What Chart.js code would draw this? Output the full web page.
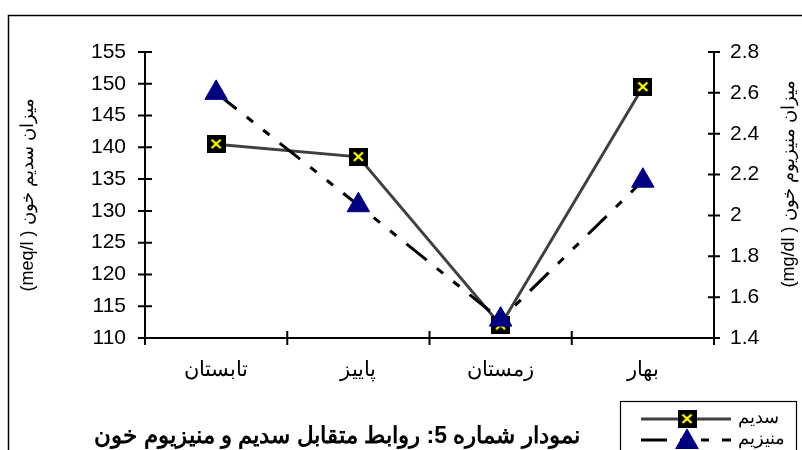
<!DOCTYPE html>
<html>
<head>
<meta charset="utf-8">
<script src="https://cdn.jsdelivr.net/npm/chart.js@4.4.1/dist/chart.umd.min.js"></script>
<style>
  html,body{margin:0;padding:0;background:#fff;}
  #wrap{width:802px;height:450px;position:relative;}
</style>
</head>
<body>
<div id="wrap"><canvas id="c" width="802" height="450"></canvas></div>
<script>
const seasons=['تابستان','پاییز','زمستان','بهار'];
const sodium=[140.5, 138.5, 112, 149.5];
const magnesium=[2.6, 2.05, 1.49, 2.17];
const seriesNames=['سدیم','منیزیم'];
const sodiumTicks=[110,155,5];
const magTicks=[1.4,2.8,0.2];
const leftTitle='(meq/l ) میزان سدیم خون';
const rightTitle='(mg/dl ) میزان منیزیوم خون';
const captionWords=['نمودار','شماره',':5','روابط','متقابل','سدیم','و','منیزیوم','خون'];

const FONT='"Liberation Sans", Arial, sans-serif';

// black square with yellow cross
const sq=document.createElement('canvas');
sq.width=19; sq.height=18;
(function(){
  const g=sq.getContext('2d');
  g.fillStyle='#000'; g.fillRect(0,0,19,18);
  g.strokeStyle='#ffff00'; g.lineWidth=2.4;
  g.beginPath(); g.moveTo(5,4.5); g.lineTo(14,13); g.moveTo(14,4.5); g.lineTo(5,13); g.stroke();
})();

const frame={
  id:'frame',
  beforeDraw(chart){
    const ctx=chart.ctx;
    ctx.save();
    ctx.strokeStyle='#000'; ctx.lineWidth=1.5;
    ctx.strokeRect(8.5,15.5,900,600);
    ctx.restore();
  }
};

const extras={
  id:'extras',
  afterDraw(chart){
    const ctx=chart.ctx, s=chart.scales;
    ctx.save();
    ctx.strokeStyle='#000'; ctx.lineWidth=2;
    // ticks crossing the axes
    ctx.beginPath();
    for(const t of s.y.ticks){ const py=s.y.getPixelForValue(t.value); ctx.moveTo(s.y.right-7,py); ctx.lineTo(s.y.right+7,py); }
    for(const t of s.y1.ticks){ const py=s.y1.getPixelForValue(t.value); ctx.moveTo(s.y1.left-6,py); ctx.lineTo(s.y1.left+6,py); }
    const n=seasons.length, w=(s.x.right-s.x.left)/n;
    for(let i=0;i<=n;i++){ const px=s.x.left+i*w; ctx.moveTo(px,s.x.top-7); ctx.lineTo(px,s.x.top+7); }
    ctx.stroke();

    // axis titles, both reading bottom to top
    ctx.fillStyle='#000'; ctx.font='18px '+FONT; ctx.direction='ltr';
    ctx.textAlign='center'; ctx.textBaseline='middle';
    ctx.save(); ctx.translate(28,195); ctx.rotate(-Math.PI/2); ctx.fillText(leftTitle,0,0); ctx.restore();
    ctx.save(); ctx.translate(789,184); ctx.rotate(-Math.PI/2); ctx.fillText(rightTitle,0,0); ctx.restore();

    // caption: the original shows the words in reversed order, so lay them out from the right
    ctx.font='bold 23px '+FONT; ctx.textAlign='left';
    const gap=ctx.measureText(' ').width;
    const total=captionWords.reduce((a,wd)=>a+ctx.measureText(wd).width,0)+gap*(captionWords.length-1);
    let cx=337+total/2;
    for(const wd of captionWords){ const ww=ctx.measureText(wd).width; cx-=ww; ctx.fillText(wd,cx,437); cx-=gap; }

    // legend box
    ctx.lineWidth=1.2;
    ctx.strokeRect(620.5,401.5,176,80);
    const ds=chart.data.datasets;
    const rows=[419,440];
    ds.forEach((d,i)=>{
      const yy=rows[i];
      ctx.save();
      ctx.strokeStyle=d.borderColor; ctx.lineWidth=d.borderWidth;
      ctx.setLineDash(d.borderDash||[]);
      ctx.beginPath(); ctx.moveTo(641,yy); ctx.lineTo(731,yy); ctx.stroke();
      ctx.restore();
      if(d.pointStyle===sq){ ctx.drawImage(sq,687-9.5,yy-9); }
      else{
        ctx.fillStyle=d.pointBackgroundColor; ctx.strokeStyle=d.pointBorderColor; ctx.lineWidth=1;
        Chart.helpers.drawPoint(ctx,{pointStyle:d.pointStyle,radius:d.pointRadius,rotation:0,borderWidth:1},687,yy+2);
      }
      ctx.fillStyle='#000'; ctx.font='18px '+FONT; ctx.textAlign='left'; ctx.textBaseline='middle';
      ctx.fillText(d.label,738,yy-1);
    });
    ctx.restore();
  }
};

new Chart(document.getElementById('c'),{
  type:'line',
  data:{
    labels:seasons,
    datasets:[
      {label:seriesNames[0],data:sodium,yAxisID:'y',order:1,
       borderColor:'#404040',borderWidth:3,pointStyle:sq,pointRadius:9,
       pointBackgroundColor:'#000',pointBorderColor:'#000'},
      {label:seriesNames[1],data:magnesium,yAxisID:'y1',order:0,
       borderColor:'#000',borderWidth:3,borderDash:[26,13,8,13,8,13],
       pointStyle:'triangle',pointRadius:13,pointBorderWidth:1,
       pointBackgroundColor:'#000080',pointBorderColor:'#000080'}
    ]
  },
  options:{
    responsive:false,animation:false,devicePixelRatio:1,
    layout:{padding:{top:52,left:0,right:0,bottom:0}},
    plugins:{legend:{display:false},tooltip:{enabled:false}},
    scales:{
      x:{offset:true,grid:{display:false,drawTicks:false},
         border:{display:true,color:'#000',width:2},
         ticks:{color:'#000',padding:20,font:{family:FONT,size:21},maxRotation:0},
         afterFit(sc){sc.height=112;}},
      y:{position:'left',min:sodiumTicks[0],max:sodiumTicks[1],
         grid:{display:false,drawTicks:false},border:{display:true,color:'#000',width:2},
         ticks:{stepSize:sodiumTicks[2],color:'#000',padding:19,font:{family:FONT,size:21}},
         afterFit(sc){sc.width=145;}},
      y1:{position:'right',min:magTicks[0],max:magTicks[1],
         grid:{display:false,drawTicks:false},border:{display:true,color:'#000',width:2},
         ticks:{stepSize:magTicks[2],color:'#000',padding:16,font:{family:FONT,size:21},
                callback:v=>String(Number(v.toFixed(1)))},
         afterFit(sc){sc.width=88;}}
    }
  },
  plugins:[frame,extras]
});
</script>
</body>
</html>
